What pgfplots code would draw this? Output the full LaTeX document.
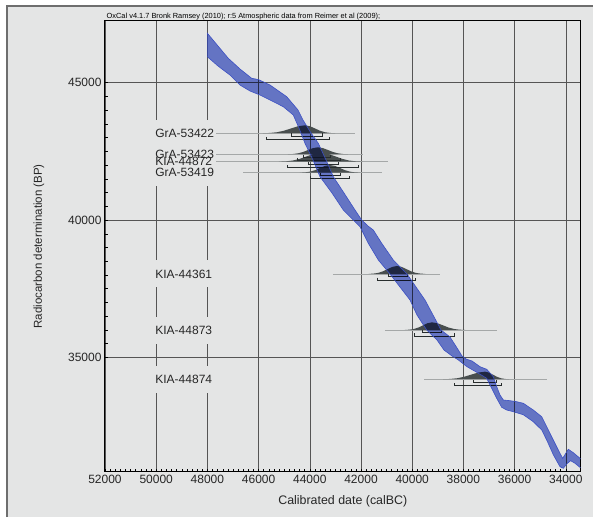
\documentclass[border=0pt]{standalone}
\usepackage{fontspec}
\setmainfont{Liberation Sans}
\usepackage{pgfplots}
\pgfplotsset{compat=1.18}
\definecolor{bg}{RGB}{228,229,229}
\definecolor{framec}{RGB}{110,110,110}
\definecolor{gridc}{RGB}{85,85,85}
\definecolor{bandfill}{RGB}{112,130,218}
\definecolor{bandedge}{RGB}{60,80,195}
\definecolor{distc}{RGB}{72,78,78}
\definecolor{thinc}{RGB}{165,168,168}
\definecolor{barc}{RGB}{40,45,45}
\tikzset{
  lblbox/.style={anchor=west, xshift=-3pt, inner xsep=2pt, inner ysep=0pt, minimum height=27pt, fill=bg, font=\fontsize{12}{14}\selectfont},
  lbltxt/.style={anchor=west, xshift=-3pt, inner xsep=2pt, inner ysep=0pt, font=\fontsize{12}{14}\selectfont, text=black!85},
}
\begin{document}
\begin{tikzpicture}
\fill[white] (0,0) rectangle (593pt,517pt);
\path[use as bounding box] (0,0) rectangle (593pt,517pt);
\fill[bg] (7pt,0) rectangle (593pt,511pt);
\draw[framec, line width=1.4pt] (7pt,0) -- (7pt,511pt) -- (593pt,511pt);
\begin{axis}[
  at={(105pt,45.3pt)}, anchor=south west,
  scale only axis, width=475.6pt, height=450.7pt,
  x dir=reverse,
  xmin=33422, xmax=52000, ymin=30840, ymax=47246,
  xtick={34000,36000,...,52000},
  ytick={35000,40000,45000},
  scaled ticks=false,
  minor x tick num=9, minor y tick num=9,
  tick pos=left, tick align=inside,
  major tick length=3pt, minor tick length=3pt,
  every tick/.style={black, line width=0.5pt},
  grid=major, major grid style={gridc, line width=0.6pt},
  axis line style={black, line width=1pt},
  ticklabel style={font=\fontsize{12}{14}\selectfont, text=black!85},
  /pgf/number format/1000 sep={},
  /pgf/number format/assume math mode=true,
  xlabel={Calibrated date (calBC)},
  xlabel style={at={(axis description cs:0.5,-0.066)}, anchor=center, font=\fontsize{12.4}{14}\selectfont, text=black!85},
  ylabel={Radiocarbon determination (BP)},
  ylabel style={at={(axis description cs:-0.1388,0.5)}, anchor=center, font=\fontsize{11.5}{14}\selectfont, text=black!85},
  title={OxCal v4.1.7 Bronk Ramsey (2010); r:5 Atmospheric data from Reimer et al (2009);},
  every axis title shift=0pt,
  title style={at={(axis description cs:0,1)}, anchor=south west, yshift=0pt, font=\fontsize{7.4}{9}\selectfont, inner sep=1pt, xshift=0.5pt},
]
% thin baselines
\addplot[thinc, line width=0.6pt] coordinates {(48289,43158)(42234,43158)};
\addplot[thinc, line width=0.6pt] coordinates {(48289,42394)(41922,42394)};
\addplot[thinc, line width=0.6pt] coordinates {(48289,42124)(40945,42124)};
\addplot[thinc, line width=0.6pt] coordinates {(46609,41724)(41180,41724)};
\addplot[thinc, line width=0.6pt] coordinates {(43094,38037)(38914,38037)};
\addplot[thinc, line width=0.6pt] coordinates {(41063,35998)(36699,35998)};
\addplot[thinc, line width=0.6pt] coordinates {(39539,34204)(34746,34204)};
% calibrated distributions
\addplot[fill=distc, draw=none] coordinates {(45829,43161)(45556,43171)(45282,43197)(45009,43252)(44735,43334)(44462,43415)(44188,43449)(43993,43415)(43797,43334)(43602,43252)(43406,43197)(43211,43171)(43015,43161)} -- cycle;
\addplot[fill=distc, draw=none] coordinates {(44852,42397)(44657,42405)(44461,42429)(44266,42477)(44071,42549)(43875,42619)(43680,42649)(43485,42619)(43289,42549)(43094,42477)(42899,42429)(42703,42405)(42508,42397)} -- cycle;
\addplot[fill=distc, draw=none] coordinates {(45204,42128)(44930,42138)(44657,42168)(44383,42231)(44110,42323)(43837,42413)(43563,42452)(43289,42413)(43016,42323)(42743,42231)(42469,42168)(42196,42138)(41922,42128)} -- cycle;
\addplot[fill=distc, draw=none] coordinates {(44383,41727)(44188,41736)(43993,41762)(43797,41815)(43602,41894)(43406,41971)(43211,42004)(43016,41971)(42820,41894)(42625,41815)(42429,41762)(42234,41736)(42039,41727)} -- cycle;
\addplot[fill=distc, draw=none] coordinates {(41707,38040)(41522,38050)(41336,38076)(41151,38131)(40965,38213)(40780,38294)(40594,38328)(40408,38294)(40223,38213)(40037,38131)(39852,38076)(39666,38050)(39481,38040)} -- cycle;
\addplot[fill=distc, draw=none] coordinates {(40283,36001)(40107,36010)(39931,36036)(39755,36089)(39579,36168)(39403,36245)(39227,36278)(39012,36245)(38797,36168)(38582,36089)(38367,36036)(38152,36010)(37937,36001)} -- cycle;
\addplot[fill=distc, draw=none] coordinates {(38797,34207)(38523,34216)(38250,34241)(37976,34294)(37703,34372)(37429,34448)(37156,34481)(37000,34448)(36843,34372)(36687,34294)(36530,34241)(36374,34216)(36218,34207)} -- cycle;
% range bars
\addplot[barc, line width=0.8pt] coordinates {(44707,43151)(44707,43060)(43496,43060)(43496,43151)};
\addplot[barc, line width=0.8pt] coordinates {(45684,43031)(45684,42940)(43238,42940)(43238,43031)};
\addplot[barc, line width=0.8pt] coordinates {(44266,42386)(44266,42295)(43211,42295)(43211,42386)};
\addplot[barc, line width=0.8pt] coordinates {(44500,42266)(44500,42175)(42820,42175)(42820,42266)};
\addplot[barc, line width=0.8pt] coordinates {(44070,42117)(44070,42026)(42898,42026)(42898,42117)};
\addplot[barc, line width=0.8pt] coordinates {(44891,41997)(44891,41906)(42117,41906)(42117,41997)};
\addplot[barc, line width=0.8pt] coordinates {(43574,41717)(43574,41626)(42820,41626)(42820,41717)};
\addplot[barc, line width=0.8pt] coordinates {(43965,41597)(43965,41506)(42457,41506)(42457,41597)};
\addplot[barc, line width=0.8pt] coordinates {(40934,38029)(40934,37938)(40191,37938)(40191,38029)};
\addplot[barc, line width=0.8pt] coordinates {(41363,37909)(41363,37818)(39863,37818)(39863,37909)};
\addplot[barc, line width=0.8pt] coordinates {(39605,35991)(39605,35900)(38848,35900)(38848,35991)};
\addplot[barc, line width=0.8pt] coordinates {(39918,35871)(39918,35780)(38367,35780)(38367,35871)};
\addplot[barc, line width=0.8pt] coordinates {(37613,34186)(37613,34095)(36699,34095)(36699,34186)};
\addplot[barc, line width=0.8pt] coordinates {(38355,34062)(38355,33971)(36504,33971)(36504,34062)};
% calibration curve band
\addplot[fill=bandfill, draw=none, blend mode=multiply] coordinates {
(48000,46798)(47586,46336)(47184,45888)(46727,45499)(46270,45160)(46012,45116)(45555,44916)(44902,44490)(44461,44006)(44266,43642)(43953,43169)(43668,42794)(43367,42186)(43082,41578)(42664,40985)(42234,40366)(41973,40002)(41727,39784)(41520,39638)(41191,39154)(40738,38546)(40203,38037)(39852,37563)(39500,37090)(39187,36544)(38875,35998)(38523,35744)(38199,35270)(38055,35052)(37898,34943)(37664,34870)(37352,34662)(37090,34568)(36832,34298)(36699,33934)(36570,33632)(36441,33450)(36180,33425)(35918,33388)(35660,33330)(35270,33086)(34941,32842)(34746,32478)(34488,31994)(34227,31510)(34121,31328)(33902,31656)(33707,31532)(33445,31328)(33400,31290)
(33400,30985)(33445,30999)(33641,31146)(33809,31241)(33941,31146)(34098,30964)(34227,31022)(34488,31458)(34746,31994)(34941,32358)(35270,32660)(35660,32914)(36051,33024)(36309,33086)(36504,33185)(36699,33512)(36895,33876)(37090,34240)(37430,34433)(37859,34662)(38211,34917)(38445,35052)(38758,35270)(39031,35634)(39434,35998)(39813,36544)(40086,37090)(40477,37563)(40867,38037)(41324,38546)(41715,39154)(41973,39638)(42039,39758)(42301,40002)(42692,40366)(43133,40985)(43602,41578)(43875,42186)(44188,42794)(44422,43351)(44645,43824)(45035,44126)(45477,44334)(45945,44552)(46336,44698)(46727,44916)(47117,45280)(47586,45608)(48000,45946)} -- cycle;
\addplot[draw=bandedge, line width=0.6pt] coordinates {
(48000,46798)(47586,46336)(47184,45888)(46727,45499)(46270,45160)(46012,45116)(45555,44916)(44902,44490)(44461,44006)(44266,43642)(43953,43169)(43668,42794)(43367,42186)(43082,41578)(42664,40985)(42234,40366)(41973,40002)(41727,39784)(41520,39638)(41191,39154)(40738,38546)(40203,38037)(39852,37563)(39500,37090)(39187,36544)(38875,35998)(38523,35744)(38199,35270)(38055,35052)(37898,34943)(37664,34870)(37352,34662)(37090,34568)(36832,34298)(36699,33934)(36570,33632)(36441,33450)(36180,33425)(35918,33388)(35660,33330)(35270,33086)(34941,32842)(34746,32478)(34488,31994)(34227,31510)(34121,31328)(33902,31656)(33707,31532)(33445,31328)(33400,31290)
(33400,30985)(33445,30999)(33641,31146)(33809,31241)(33941,31146)(34098,30964)(34227,31022)(34488,31458)(34746,31994)(34941,32358)(35270,32660)(35660,32914)(36051,33024)(36309,33086)(36504,33185)(36699,33512)(36895,33876)(37090,34240)(37430,34433)(37859,34662)(38211,34917)(38445,35052)(38758,35270)(39031,35634)(39434,35998)(39813,36544)(40086,37090)(40477,37563)(40867,38037)(41324,38546)(41715,39154)(41973,39638)(42039,39758)(42301,40002)(42692,40366)(43133,40985)(43602,41578)(43875,42186)(44188,42794)(44422,43351)(44645,43824)(45035,44126)(45477,44334)(45945,44552)(46336,44698)(46727,44916)(47117,45280)(47586,45608)(48000,45946)} -- cycle;
% label boxes
\node[lblbox] at (axis cs:50000,43158) {\phantom{GrA-53422}};
\node[lblbox] at (axis cs:50000,42394) {\phantom{GrA-53423}};
\node[lblbox] at (axis cs:50000,42124) {\phantom{KIA-44872}};
\node[lblbox] at (axis cs:50000,41724) {\phantom{GrA-53419}};
\node[lblbox] at (axis cs:50000,38037) {\phantom{KIA-44361}};
\node[lblbox] at (axis cs:50000,35998) {\phantom{KIA-44873}};
\node[lblbox] at (axis cs:50000,34204) {\phantom{KIA-44874}};
% label texts
\node[lbltxt] at (axis cs:50000,43158) {GrA-53422};
\node[lbltxt] at (axis cs:50000,42394) {GrA-53423};
\node[lbltxt] at (axis cs:50000,42124) {KIA-44872};
\node[lbltxt] at (axis cs:50000,41724) {GrA-53419};
\node[lbltxt] at (axis cs:50000,38037) {KIA-44361};
\node[lbltxt] at (axis cs:50000,35998) {KIA-44873};
\node[lbltxt] at (axis cs:50000,34204) {KIA-44874};
\end{axis}
\end{tikzpicture}
\end{document}
